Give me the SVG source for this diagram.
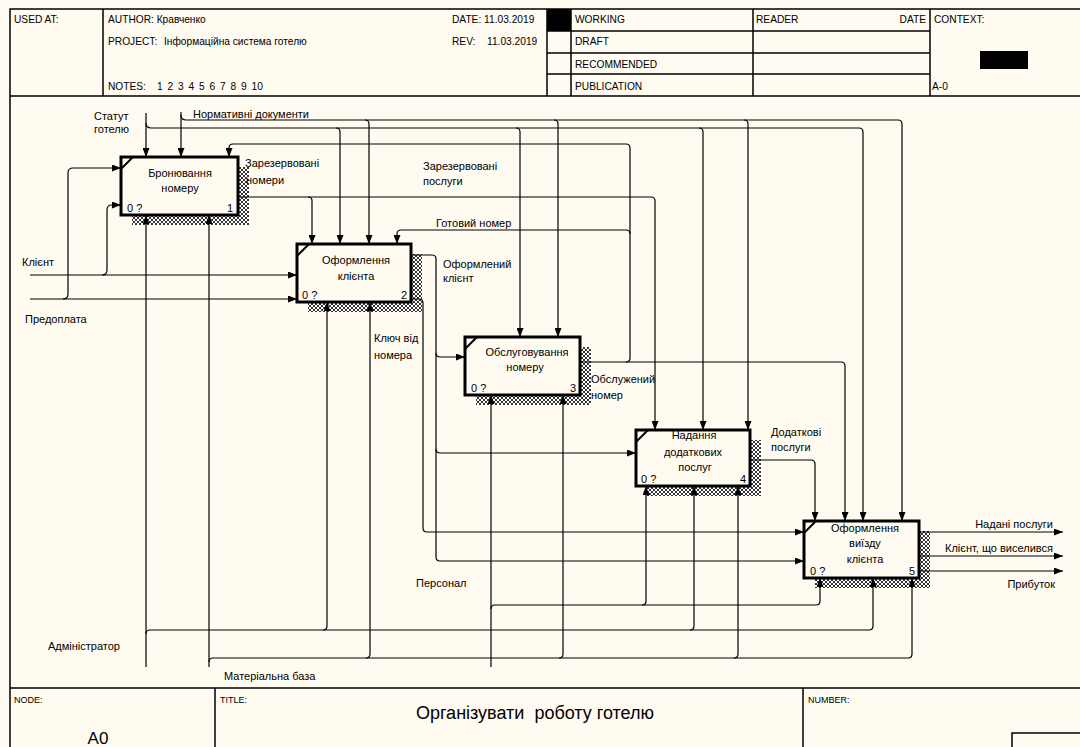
<svg xmlns="http://www.w3.org/2000/svg" width="1080" height="747" viewBox="0 0 1080 747">
<defs>
<style>
.t{font-family:"Liberation Sans",Arial,sans-serif;fill:#000}
.h{font-size:10.2px}
.l{font-size:11px}
.c{font-size:11px;text-anchor:middle}
.r{text-anchor:end}
.fr{fill:none;stroke:#000;stroke-width:1.5}
.cn path{fill:none;stroke:#000;stroke-width:1.2;marker-end:url(#ah)}
.box{fill:#fffbf0;stroke:#000;stroke-width:3}
.sh{fill:url(#hatch)}
.dg{stroke:#000;stroke-width:2}
</style>
<marker id="ah" viewBox="0 0 9 7" refX="9" refY="3.5" markerWidth="9" markerHeight="7" markerUnits="userSpaceOnUse" orient="auto"><path d="M0,0 L9,3.5 L0,7 z" fill="#000"/></marker>
<pattern id="hatch" width="4" height="4" patternUnits="userSpaceOnUse"><rect width="4" height="4" fill="#fff"/><path d="M0,0 L4,4 M4,0 L0,4" stroke="#000" stroke-width="0.8"/></pattern>
</defs>
<rect x="0" y="0" width="1080" height="747" fill="#fffbf0"/>
<g id="frame">
<rect class="fr" x="10" y="9" width="1085" height="760"/>
<path class="fr" d="M10 96 H1085 M10 688 H1085 M103 9 V96 M547 9 V96 M571 9 V96 M753 9 V96 M930 9 V96 M547 31 H930 M547 53 H930 M547 74 H930 M215 688 V747 M803 688 V747"/>
<rect x="547" y="9" width="24" height="22" fill="#000"/>
<rect x="980" y="51" width="48" height="18" fill="#000"/>
<rect class="fr" x="1012" y="733" width="80" height="20"/>
<text class="t h" x="14" y="23">USED AT:</text>
<text class="t h" x="108" y="23">AUTHOR:  Кравченко</text>
<text class="t h" x="108" y="45">PROJECT:</text>
<text class="t h" x="164" y="45">Інформаційна система готелю</text>
<text class="t h" x="108" y="90">NOTES:</text>
<text class="t h" x="157" y="90" word-spacing="2">1 2 3 4 5 6 7 8 9 10</text>
<text class="t h" x="452" y="23">DATE: 11.03.2019</text>
<text class="t h" x="452" y="45">REV:</text>
<text class="t h" x="487" y="45">11.03.2019</text>
<text class="t h" x="575" y="23">WORKING</text>
<text class="t h" x="575" y="45">DRAFT</text>
<text class="t h" x="575" y="68">RECOMMENDED</text>
<text class="t h" x="575" y="90">PUBLICATION</text>
<text class="t h" x="756" y="23">READER</text>
<text class="t h r" x="926" y="23">DATE</text>
<text class="t h" x="934" y="23">CONTEXT:</text>
<text class="t h" x="932" y="90">A-0</text>
<text class="t" x="14" y="703" font-size="9">NODE:</text>
<text class="t" x="220" y="703" font-size="9">TITLE:</text>
<text class="t" x="808" y="703" font-size="9">NUMBER:</text>
<text class="t" x="98" y="744" font-size="17" text-anchor="middle">A0</text>
<text class="t" x="535" y="719" font-size="18" text-anchor="middle">Організувати&#160; роботу готелю</text>
</g>
<g id="shadows">
<rect class="sh" x="132" y="167" width="117" height="58"/>
<rect class="sh" x="308" y="254" width="114" height="58"/>
<rect class="sh" x="476" y="347" width="115" height="58"/>
<rect class="sh" x="647" y="440" width="114" height="56"/>
<rect class="sh" x="815" y="531" width="115" height="57"/>
</g>
<g id="connectors" class="cn">
<path d="M30 275 H297"/>
<path d="M102 275 Q107 275 107 270 V210 Q107 205 112 205 H121"/>
<path d="M30 299 H297"/>
<path d="M63 299 Q68 299 68 294 V173 Q68 168 73 168 H121"/>
<path d="M146 113 V157"/>
<path d="M146 123 Q146 128 151 128 H859 Q863 128 863 132 V521"/>
<path d="M336 128 Q340 128 340 132 V244"/>
<path d="M516 128 Q520 128 520 132 V337"/>
<path d="M699 128 Q703 128 703 132 V430"/>
<path d="M181 112 V157"/>
<path d="M181 115 Q181 120 186 120 H898 Q902 120 902 124 V521"/>
<path d="M365 120 Q369 120 369 124 V244"/>
<path d="M554 120 Q558 120 558 124 V337"/>
<path d="M744 120 Q748 120 748 124 V430"/>
<path d="M238 197 H651 Q655 197 655 201 V430"/>
<path d="M308 197 Q312 197 312 201 V244"/>
<path d="M580 362 H841 Q845 362 845 366 V521"/>
<path d="M626 362 Q630 362 630 358 V148 Q630 144 626 144 H233 Q229 144 229 148 V157"/>
<path d="M630 234 Q630 230 626 230 H401 Q397 230 397 234 V244"/>
<path d="M411 255 H432 Q436 255 436 259 V557 Q436 561 440 561 H804"/>
<path d="M436 353 Q436 357 440 357 H465"/>
<path d="M436 449 Q436 453 440 453 H636"/>
<path d="M411 299 H419 Q423 299 423 303 V528 Q423 532 427 532 H804"/>
<path d="M750 460 H811 Q815 460 815 464 V521"/>
<path d="M919 532 H1063"/>
<path d="M919 556 H1063"/>
<path d="M919 571 H1063"/>
<path d="M146 667 V215"/>
<path d="M146 634 Q146 630 150 630 H869 Q873 630 873 626 V578"/>
<path d="M323 630 Q327 630 327 626 V302"/>
<path d="M690 630 Q694 630 694 626 V486"/>
<path d="M209 667 V215"/>
<path d="M209 662 Q209 658 213 658 H908 Q912 658 912 654 V578"/>
<path d="M366 658 Q370 658 370 654 V302"/>
<path d="M559 658 Q563 658 563 654 V395"/>
<path d="M734 658 Q738 658 738 654 V486"/>
<path d="M491 667 V395"/>
<path d="M491 609 Q491 605 495 605 H816 Q820 605 820 601 V578"/>
<path d="M642 605 Q646 605 646 601 V486"/>
</g>
<g id="labels">
<text class="t l" x="94" y="120">Статут</text>
<text class="t l" x="94" y="133">готелю</text>
<text class="t l" x="193" y="118">Нормативні документи</text>
<text class="t l" x="245" y="167">Зарезервовані</text>
<text class="t l" x="246" y="184">номери</text>
<text class="t l" x="423" y="170">Зарезервовані</text>
<text class="t l" x="423" y="185">послуги</text>
<text class="t l" x="436" y="227">Готовий номер</text>
<text class="t l" x="443" y="268">Оформлений</text>
<text class="t l" x="443" y="282">клієнт</text>
<text class="t l" x="374" y="342">Ключ від</text>
<text class="t l" x="374" y="359">номера</text>
<text class="t l" x="591" y="383">Обслужений</text>
<text class="t l" x="591" y="399">номер</text>
<text class="t l" x="771" y="436">Додаткові</text>
<text class="t l" x="771" y="451">послуги</text>
<text class="t l r" x="1053" y="528">Надані послуги</text>
<text class="t l r" x="1053" y="552">Клієнт, що виселився</text>
<text class="t l r" x="1055" y="588">Прибуток</text>
<text class="t l" x="22" y="266">Клієнт</text>
<text class="t l" x="25" y="323">Предоплата</text>
<text class="t l" x="416" y="587">Персонал</text>
<text class="t l" x="48" y="650">Адміністратор</text>
<text class="t l" x="224" y="680">Матеріальна база</text>
</g>
<g id="node1">
<rect class="box" x="121" y="157" width="117" height="58"/>
<line class="dg" x1="121" y1="169" x2="133" y2="157"/>
<text class="t c" x="180" y="177">Бронювання</text>
<text class="t c" x="180" y="192">номеру</text>
<text class="t l" x="127" y="212">0 ?</text>
<text class="t l r" x="233" y="212">1</text>
</g>
<g id="node2">
<rect class="box" x="297" y="244" width="114" height="58"/>
<line class="dg" x1="297" y1="256" x2="309" y2="244"/>
<text class="t c" x="356" y="264">Оформлення</text>
<text class="t c" x="356" y="280">клієнта</text>
<text class="t l" x="302" y="299">0 ?</text>
<text class="t l r" x="407" y="299">2</text>
</g>
<g id="node3">
<rect class="box" x="465" y="337" width="115" height="58"/>
<line class="dg" x1="465" y1="349" x2="477" y2="337"/>
<text class="t c" x="527" y="356">Обслуговування</text>
<text class="t c" x="525" y="371">номеру</text>
<text class="t l" x="471" y="392">0 ?</text>
<text class="t l r" x="576" y="392">3</text>
</g>
<g id="node4">
<rect class="box" x="636" y="430" width="114" height="56"/>
<line class="dg" x1="636" y1="442" x2="648" y2="430"/>
<text class="t c" x="694" y="439">Надання</text>
<text class="t c" x="693" y="456">додаткових</text>
<text class="t c" x="695" y="471">послуг</text>
<text class="t l" x="641" y="483">0 ?</text>
<text class="t l r" x="746" y="483">4</text>
</g>
<g id="node5">
<rect class="box" x="804" y="521" width="115" height="57"/>
<line class="dg" x1="804" y1="533" x2="816" y2="521"/>
<text class="t c" x="865" y="532">Оформлення</text>
<text class="t c" x="865" y="547">виїзду</text>
<text class="t c" x="865" y="563">клієнта</text>
<text class="t l" x="810" y="575">0 ?</text>
<text class="t l r" x="915" y="575">5</text>
</g>
</svg>
